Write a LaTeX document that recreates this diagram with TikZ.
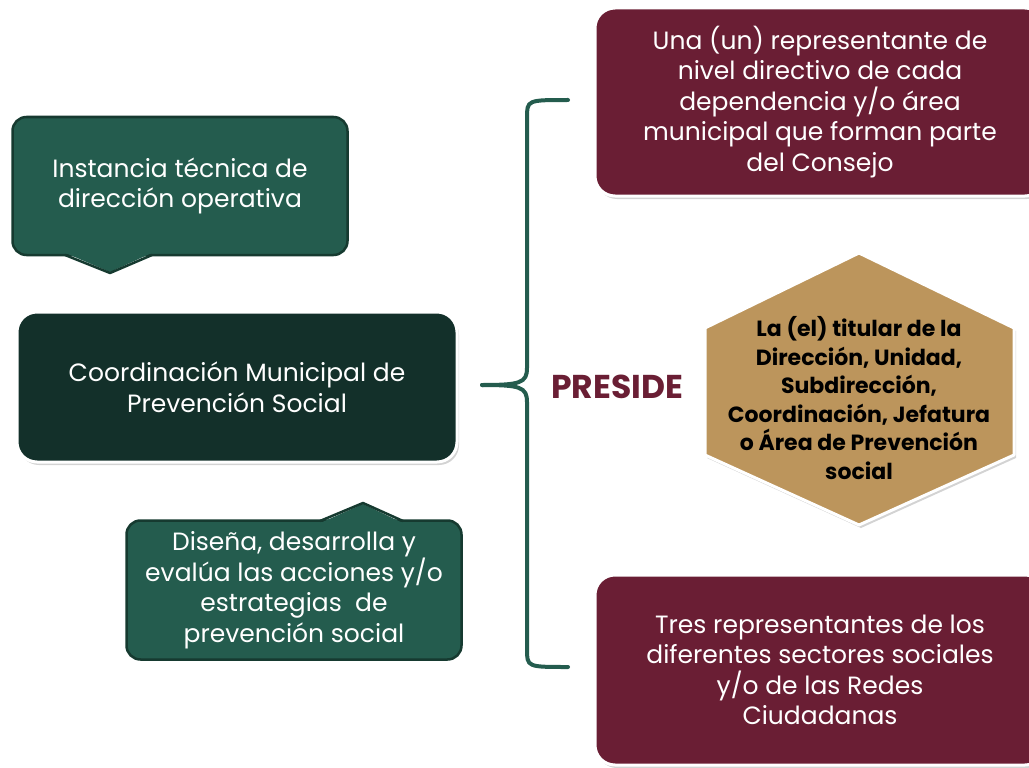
\documentclass[tikz,border=0pt]{standalone}
\usepackage{fontspec}
\setmainfont{Poppins}
\usetikzlibrary{shadows,positioning}
\definecolor{pvGreen}{RGB}{36,92,78}
\definecolor{pvGreenLine}{RGB}{22,58,48}
\definecolor{pvDark}{RGB}{19,48,42}
\definecolor{pvWine}{RGB}{106,30,52}
\definecolor{pvGold}{RGB}{188,149,92}

\begin{document}
\begin{tikzpicture}[
  x=1pt, y=-1pt,
  txt/.style={font=\fontsize{25}{30.5}\selectfont, align=center, text=white},
  note/.style={txt, rounded corners=14pt, fill=pvGreen, draw=pvGreenLine, line width=2.5pt, inner sep=0pt},
  card/.style={txt, rounded corners=20pt, draw=white, line width=3pt, inner sep=0pt,
    drop shadow={shadow xshift=2pt, shadow yshift=-3pt, opacity=0.35}},
  tip/.style={fill=pvGreen, draw=pvGreenLine, line width=2.5pt, line join=round},
  brace/.style={pvGreen, line width=4pt, line cap=round},
]
\useasboundingbox (0,0) rectangle (1029,768);
\clip (0,0) rectangle (1029,768);

% ======================= left column =======================
\node[note, minimum width=335pt, minimum height=138pt] (inst) at (180,186)
  {Instancia técnica de\\ dirección operativa};
\fill[pvGreen] (63,252) -- (110,272) -- (154,252) -- cycle;
\draw[tip, fill=none] (65,255) -- (110,273) -- (152,255);

\node[card, fill=pvDark, minimum width=440pt, minimum height=150pt] (coord) at (237,387)
  {Coordinación Municipal de\\ Prevención Social};

\node[note, minimum width=335pt, minimum height=139pt] (dis) at (294,590)
  {Diseña, desarrolla y\\ evalúa las acciones y/o\\ estrategias \ de\\ prevención social};
\fill[pvGreen] (318,524) -- (363,504) -- (405,524) -- cycle;
\draw[tip, fill=none] (320,521) -- (363,503) -- (403,521);

% ======================= brace =======================
\coordinate (bt) at (568,100);
\coordinate (bm) at (482,385);
\coordinate (bb) at (568,667);
\draw[brace] (bt) .. controls (527,100) .. (527,118) -- (527,368)
  .. controls (527,383) and (520,385) .. (bm);
\draw[brace] (bm) .. controls (520,385) and (527,387) .. (527,402) -- (527,649)
  .. controls (527,667) .. (bb);
\node[font=\fontsize{33}{36}\selectfont\bfseries, text=pvWine] (pres) at (617,387) {PRESIDE};

% ======================= right column =======================
\node[card, fill=pvWine, minimum width=450pt, minimum height=188pt] (rep) at (820,102)
  {Una (un) representante de\\ nivel directivo de cada\\ dependencia y/o área\\ municipal que forman parte\\ del Consejo};

\draw[fill=pvGold, draw=white, line width=3pt, line join=round,
  drop shadow={shadow xshift=2pt, shadow yshift=-3pt, opacity=0.35}]
  (859,253) -- (1014,328) -- (1014,455) -- (859,525) -- (705,455) -- (705,328) -- cycle;
\node[font=\fontsize{22}{28.5}\selectfont\bfseries, align=center] (tit) at (859,398)
  {La (el) titular de la\\ Dirección, Unidad,\\ Subdirección,\\ Coordinación, Jefatura\\ o Área de Prevención\\ social};

\node[card, fill=pvWine, minimum width=450pt, minimum height=190pt] (tres) at (820,670)
  {Tres representantes de los\\ diferentes sectores sociales\\ y/o de las Redes\\ Ciudadanas};

\end{tikzpicture}
\end{document}
